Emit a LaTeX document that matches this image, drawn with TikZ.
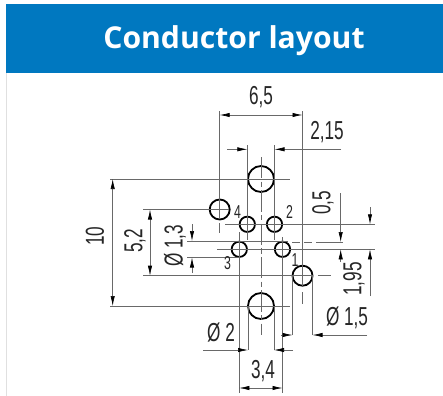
\documentclass[tikz,border=0pt]{standalone}
\usepackage{fontspec}
\setmainfont{Liberation Sans}
\newfontfamily\titlefont{Open Sans}
\usetikzlibrary{arrows.meta}
\definecolor{bannerblue}{RGB}{0,120,192}
\definecolor{dimgray}{RGB}{105,105,105}
\tikzset{
  dimline/.style={draw=dimgray,line width=0.45pt},
  dimtip/.style={dimline,-{Latex[length=7.5pt,width=3.2pt,color=black]}},
  dimboth/.style={dimline,{Latex[length=7.5pt,width=3.2pt,color=black]}-{Latex[length=7.5pt,width=3.2pt,color=black]}},
  centreline/.style={dimline,dash pattern=on 16pt off 2.5pt on 4pt off 2.5pt},
  pinring/.style={circle,draw=black,line width=1.35pt,fill=none,inner sep=0pt},
  bigpin/.style={pinring,minimum size=19.5pt},
  midpin/.style={pinring,minimum size=15pt},
  smallpin/.style={pinring,minimum size=11.5pt},
  dimtext/.style={inner sep=0pt,font=\fontsize{19.5}{20}\selectfont,xscale=0.66,text=black!85},
  pintext/.style={inner sep=0pt,font=\fontsize{14}{15}\selectfont,xscale=0.66,text=black!85},
}
\begin{document}
\begin{tikzpicture}[x=0.75pt,y=0.75pt,yscale=-1,xscale=1]
\useasboundingbox (0,0) rectangle (443,396);

%Banner
\fill [white] (0,0) rectangle (443,396);
\draw [black!12,line width=0.75pt] (6,73) -- (6,396);
\fill [bannerblue] (6,4) rectangle (443,73);
\node (title) [inner sep=0pt,text=white,font=\titlefont\fontsize{22.6}{26}\selectfont\bfseries] at (234,41) {Conductor layout};

%Pins
\node (pinTop) [bigpin] at (261,179) {};
\node (pinBottom) [bigpin] at (261,306) {};
\node (pinLeft) [midpin] at (219.7,209.5) {};
\node (pinRight) [midpin] at (302.5,275.7) {};
\node (pinFour) [smallpin] at (247.3,224.3) {};
\node (pinTwo) [smallpin] at (274.5,224.3) {};
\node (pinThree) [smallpin] at (239.3,249.3) {};
\node (pinOne) [smallpin] at (282.5,249.3) {};

%Centre lines
\draw [centreline] (261,157) -- (261,335);
\draw [dimline] (233,179) -- (290,179);
\draw [dimline] (233,306) -- (290,306);
\draw [dimline,dash pattern=on 6pt off 3pt on 6pt off 3pt on 40pt] (292,242) -- (343,242);
\draw [dimline] (225,224.3) -- (297,224.3);
\draw [dimline] (217,249.3) -- (292,249.3);
\draw [dimline] (219.7,223) -- (219.7,233);
\draw [dimline] (318,275.7) -- (331,275.7);
\draw [dimline] (302.5,292) -- (302.5,304);

%Extension lines
\draw [dimline] (110,179) -- (247,179);
\draw [dimline] (110,306) -- (247,306);
\draw [dimline] (143,209.5) -- (229,209.5);
\draw [dimline] (143,275.7) -- (312.5,275.7);
\draw [dimline] (187,241) -- (288,241);
\draw [dimline] (187,257.5) -- (239,257.5);
\draw [dimline] (219.7,111) -- (219.7,219);
\draw [dimline] (302.5,111) -- (302.5,285.7);
\draw [dimline] (247.3,145) -- (247.3,240);
\draw [dimline] (274.5,145) -- (274.5,240);
\draw [dimline] (239.3,232) -- (239.3,393);
\draw [dimline] (282.5,237) -- (282.5,393);
\draw [dimline] (248,306) -- (248,350);
\draw [dimline] (274,306) -- (274,350);
\draw [dimline] (292.5,276) -- (292.5,335);
\draw [dimline] (312.5,276) -- (312.5,335);
\draw [dimline] (292,224.3) -- (375,224.3);
\draw [dimline] (292,249.3) -- (375,249.3);

%Dimension arrows
\coordinate (topLeft) at (219.7,115);
\coordinate (topRight) at (302.5,115);
\draw [dimboth] (topLeft) -- (topRight);
\coordinate (pitchTail) at (227,149.3);
\coordinate (pitchLeft) at (247.3,149.3);
\coordinate (pitchRight) at (274.5,149.3);
\coordinate (pitchEnd) at (341,149.3);
\draw [dimtip] (pitchTail) -- (pitchLeft);
\draw [dimtip] (pitchEnd) -- (pitchRight);
\coordinate (tenTop) at (112.7,179);
\coordinate (tenBottom) at (112.7,306);
\draw [dimboth] (tenTop) -- (tenBottom);
\coordinate (fiveTop) at (150,209.5);
\coordinate (fiveBottom) at (150,275.7);
\draw [dimboth] (fiveTop) -- (fiveBottom);
\coordinate (boreTail) at (192,224);
\coordinate (boreTop) at (192,241);
\coordinate (boreBottom) at (192,257.5);
\coordinate (boreEnd) at (192,273);
\draw [dimtip] (boreTail) -- (boreTop);
\draw [dimtip] (boreEnd) -- (boreBottom);
\coordinate (gapTail) at (340.7,193);
\coordinate (gapTop) at (340.7,242);
\coordinate (gapBottom) at (340.7,249.3);
\coordinate (gapEnd) at (340.7,262);
\draw [dimtip] (gapTail) -- (gapTop);
\draw [dimtip] (gapEnd) -- (gapBottom);
\coordinate (rowTail) at (370,207);
\coordinate (rowTop) at (370,224.3);
\coordinate (rowBottom) at (370,249.3);
\coordinate (rowEnd) at (370,296);
\draw [dimtip] (rowTail) -- (rowTop);
\draw [dimtip] (rowEnd) -- (rowBottom);
\coordinate (holeTail) at (281,335);
\coordinate (holeLeft) at (292.5,335);
\coordinate (holeRight) at (312.5,335);
\coordinate (holeEnd) at (367,335);
\draw [dimtip] (holeTail) -- (holeLeft);
\draw [dimtip] (holeEnd) -- (holeRight);
\coordinate (bigTail) at (203,350);
\coordinate (bigLeft) at (248,350);
\coordinate (bigRight) at (274,350);
\coordinate (bigEnd) at (293,350);
\draw [dimtip] (bigTail) -- (bigLeft);
\draw [dimtip] (bigEnd) -- (bigRight);
\coordinate (baseLeft) at (239.3,388);
\coordinate (baseRight) at (282.5,388);
\draw [dimboth] (baseLeft) -- (baseRight);

% Text Node
\node (dimWidth) [dimtext] at (261,97) {6,5};
\node (dimPitch) [dimtext] at (327,132) {2,15};
\node (dimTen) [rotate=90,dimtext] at (95,236) {10};
\node (dimFive) [rotate=90,dimtext] at (135,241) {5,2};
\node (dimBore) [rotate=90,dimtext] at (175,246) {Ø 1,3};
\node (dimGap) [rotate=90,dimtext] at (323,203) {0,5};
\node (dimRow) [rotate=90,dimtext] at (354,279) {1,95};
\node (dimHole) [dimtext] at (347,318) {Ø 1,5};
\node (dimBig) [dimtext] at (221,333) {Ø 2};
\node (dimBase) [dimtext] at (263,371) {3,4};
\node (labelFour) [pintext] at (237.5,212) {4};
\node (labelTwo) [pintext] at (289.5,212) {2};
\node (labelThree) [pintext] at (227.5,263.5) {3};
\node (labelOne) [pintext] at (295,260) {1};

\end{tikzpicture}
\end{document}
